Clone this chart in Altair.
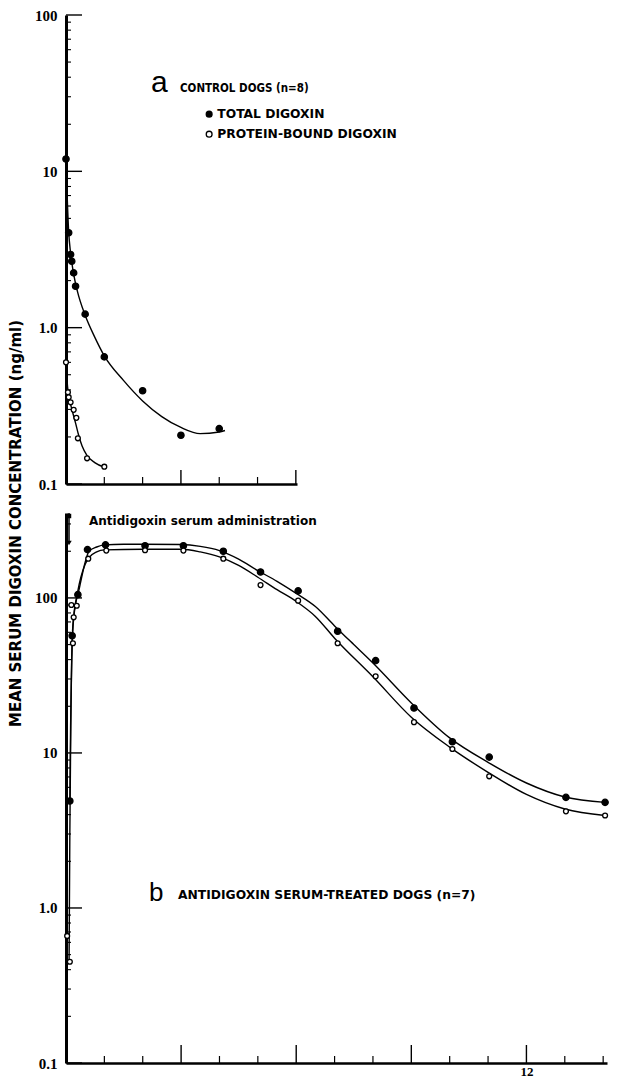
import altair as alt
import pandas as pd

# ---------------- values ----------------
SERIES = ["TOTAL DIGOXIN", "PROTEIN-BOUND DIGOXIN"]

# Panel a: control dogs (time in h, concentration ng/ml)
a_total_t = [0.0, 0.07, 0.12, 0.15, 0.2, 0.25, 0.5, 1.0, 2.0, 3.0, 4.0]
a_total_v = [12.0, 4.05, 2.94, 2.66, 2.24, 1.84, 1.22, 0.65, 0.395, 0.205, 0.226]
a_bound_t = [0.0, 0.05, 0.07, 0.12, 0.2, 0.27, 0.31, 0.55, 1.0]
a_bound_v = [0.60, 0.386, 0.359, 0.333, 0.298, 0.265, 0.196, 0.146, 0.129]

# hand-fitted curves of panel a (traced)
a_total_fit_t = [0.0, 0.03, 0.07, 0.12, 0.2, 0.3, 0.5, 0.75, 1.0, 1.5, 2.0, 2.5, 3.0, 3.5, 4.0, 4.15]
a_total_fit_v = [12.0, 7.0, 4.1, 3.0, 2.2, 1.7, 1.2, 0.87, 0.66, 0.46, 0.34, 0.27, 0.23, 0.21, 0.215, 0.22]
a_bound_fit_t = [0.0, 0.04, 0.1, 0.17, 0.25, 0.33, 0.42, 0.55, 0.75, 1.0]
a_bound_fit_v = [0.60, 0.42, 0.34, 0.29, 0.245, 0.205, 0.175, 0.152, 0.137, 0.128]

# Panel b: antidigoxin serum-treated dogs
b_total_t = [0.1, 0.16, 0.31, 0.56, 1.03, 2.06, 3.06, 4.1, 5.07, 6.05, 7.08, 8.07, 9.07, 10.07, 11.03, 13.03, 14.05]
b_total_v = [4.9, 57, 105, 205, 220, 217, 217, 200, 147, 111, 61, 39.4, 19.5, 11.8, 9.4, 5.17, 4.8]
b_bound_t = [0.03, 0.1, 0.14, 0.18, 0.2, 0.28, 0.58, 1.05, 2.06, 3.06, 4.1, 5.07, 6.05, 7.08, 8.07, 9.07, 10.07, 11.03, 13.03, 14.05]
b_bound_v = [0.66, 0.45, 90, 51, 75, 89, 179, 202, 203, 202, 179, 121, 96, 51, 31.2, 15.8, 10.6, 7.07, 4.2, 3.95]

# hand-fitted curves of panel b (traced)
b_total_fit_t = [0.1, 0.12, 0.15, 0.2, 0.35, 0.5, 0.6, 0.8, 1.0, 1.5, 2.0, 3.0, 3.5, 4.0, 4.5, 5.0, 5.5,
                 6.0, 6.5, 7.0, 7.5, 8.0, 9.0, 10.0, 11.0, 12.0, 13.0, 14.05]
b_total_fit_v = [4.9, 15, 40, 74, 116, 170, 200, 213, 220, 222, 222, 221, 215, 202, 178, 150, 128,
                 107, 88, 66, 50, 38, 21, 12.5, 8.7, 6.4, 5.2, 4.8]
b_bound_fit_t = [0.08, 0.1, 0.13, 0.18, 0.3, 0.5, 0.6, 0.8, 1.0, 2.0, 3.0, 3.5, 4.0, 4.5, 5.0, 5.5,
                 6.0, 6.5, 7.0, 8.0, 9.0, 10.0, 11.0, 12.0, 13.0, 14.05]
b_bound_fit_v = [0.45, 3, 20, 67, 108, 165, 182, 198, 204, 206, 206, 198, 184, 162, 136, 113,
                 95, 76, 55, 31, 17, 10.9, 7.5, 5.4, 4.35, 3.95]

# axis ticks / labels
Y_LABELS = [0.1, 1, 10, 100]
Y_MINOR_A = [0.2, 0.3, 0.4, 0.5, 0.6, 0.7, 0.8, 0.9, 2, 3, 4, 5, 6, 7, 8, 9,
             20, 30, 40, 50, 60, 70, 80, 90]
Y_MINOR_B = Y_MINOR_A + [200, 300]
X_MAJOR_A = [3, 6]
X_MINOR_A = [1, 2, 4, 5]
X_MAJOR_B = [3, 6, 9, 12]
X_MINOR_B = [1, 2, 4, 5, 7, 8, 10, 11, 13, 14]
X_LABELS_B = [12]

Y_TITLE = "MEAN SERUM DIGOXIN CONCENTRATION (ng/ml)"
TXT_A = "CONTROL DOGS (n=8)"
TXT_B = "ANTIDIGOXIN SERUM-TREATED DOGS (n=7)"
TXT_ARROW = "Antidigoxin serum administration"

SANS = "DejaVu Sans"
COND = "DejaVu Sans Condensed, Liberation Sans Narrow, Liberation Sans"
SERIF = "Liberation Serif"
LABEL_EXPR = "datum.value >= 10 ? format(datum.value, 'd') : format(datum.value, '.1f')"


def frame(t1, v1, t2, v2):
    return pd.concat([
        pd.DataFrame({"t": t1, "v": v1, "s": SERIES[0]}),
        pd.DataFrame({"t": t2, "v": v2, "s": SERIES[1]}),
    ], ignore_index=True)


def panel(points, fits, xdom, ydom, W, H, xmaj, xmin, ymin, xlabels, legend, ytitle,
          xmaj_len):
    xs = alt.Scale(domain=xdom, nice=False, zero=False)
    ys = alt.Scale(type="log", domain=ydom, nice=False)
    yargs = dict(values=Y_LABELS, ticks=False, grid=False, labelExpr=LABEL_EXPR,
                 labelFont=SERIF, labelFontSize=15, labelFontWeight="bold", labelColor="black",
                 labelPadding=9, domainWidth=3, domainColor="black")
    if ytitle:
        yaxis = alt.Axis(title=ytitle, titleFont=SANS, titleFontSize=15, titleFontWeight="bold",
                         titleColor="black", titleAngle=270, titleAlign="center",
                         titleBaseline="bottom", titleY=10, titlePadding=11, **yargs)
    else:
        yaxis = alt.Axis(title=None, **yargs)
    if xlabels:
        xaxis = alt.Axis(values=xlabels, ticks=False, grid=False, labelFont=SERIF,
                         labelFontSize=13, labelFontWeight="bold", labelColor="black",
                         labelPadding=2, domainWidth=2.5, domainColor="black", title=None)
    else:
        xaxis = alt.Axis(values=[0], ticks=False, labels=False, grid=False,
                         domainWidth=2.5, domainColor="black", title=None)

    X = alt.X("t:Q", scale=xs, axis=xaxis)
    Y = alt.Y("v:Q", scale=ys, axis=yaxis)

    lines = alt.Chart(fits).mark_line(color="black", strokeWidth=1.4, interpolate="monotone").encode(
        x=X, y=Y, detail="s:N")

    if legend:
        leg = alt.Legend(orient="none", legendX=137, legendY=93, title=None, padding=0,
                         labelFont=SANS, labelFontSize=12.3, labelFontWeight="bold",
                         labelColor="black", symbolType="circle", symbolSize=34,
                         symbolStrokeColor="black", symbolStrokeWidth=1.3,
                         labelOffset=2, rowPadding=7, labelLimit=0)
    else:
        leg = None
    fill = alt.Fill("s:N", scale=alt.Scale(domain=SERIES, range=["black", "white"]), legend=leg)

    base_pts = alt.Chart(points)
    pts_total = base_pts.transform_filter(alt.datum.s == SERIES[0]).mark_point(
        filled=True, shape="circle", stroke="black", strokeWidth=1.3, opacity=1, size=40
    ).encode(x=X, y=Y, fill=fill)
    pts_bound = base_pts.transform_filter(alt.datum.s == SERIES[1]).mark_point(
        filled=True, shape="circle", stroke="black", strokeWidth=1.3, opacity=1, size=24
    ).encode(x=X, y=Y, fill=fill)

    def yticks(vals, length, width):
        return alt.Chart(pd.DataFrame({"v": vals})).mark_rule(color="black", strokeWidth=width).encode(
            y=alt.Y("v:Q", scale=ys, axis=yaxis), x=alt.value(0), x2=alt.value(length))

    def xticks(vals, length, width):
        return alt.Chart(pd.DataFrame({"t": vals})).mark_rule(color="black", strokeWidth=width).encode(
            x=alt.X("t:Q", scale=xs, axis=xaxis), y=alt.value(H), y2=alt.value(H - length))

    layers = [
        yticks(Y_LABELS, 16, 1.4), yticks(ymin, 5, 1.1),
        xticks(xmaj, xmaj_len, 1.4), xticks(xmin, 7, 1.2),
        lines, pts_total, pts_bound,
    ]
    return alt.layer(*layers).properties(width=W, height=H)


pts_a = frame(a_total_t, a_total_v, a_bound_t, a_bound_v)
fit_a = frame(a_total_fit_t, a_total_fit_v, a_bound_fit_t, a_bound_fit_v)
pts_b = frame(b_total_t, b_total_v, b_bound_t, b_bound_v)
fit_b = frame(b_total_fit_t, b_total_fit_v, b_bound_fit_t, b_bound_fit_v)

top = panel(pts_a, fit_a, [0, 6.03], [0.1, 100], 231, 469, X_MAJOR_A, X_MINOR_A,
            Y_MINOR_A, None, True, None, 14)
bottom = panel(pts_b, fit_b, [0, 14.1], [0.1, 353], 541, 550, X_MAJOR_B, X_MINOR_B,
               Y_MINOR_B, X_LABELS_B, False, Y_TITLE, 18)

# annotations
lab_df = pd.DataFrame({"big": ["a"], "txt": [TXT_A]})
a_big = alt.Chart(lab_df).mark_text(font="Liberation Sans", fontSize=30, align="left",
                                    baseline="alphabetic", color="black").encode(
    text="big:N", x=alt.value(85), y=alt.value(77))
a_txt = alt.Chart(lab_df).mark_text(font=COND, fontSize=11.5, fontWeight="bold", align="left",
                                    baseline="alphabetic", color="black").encode(
    text="txt:N", x=alt.value(114), y=alt.value(77))

labb_df = pd.DataFrame({"big": ["b"], "txt": [TXT_B], "arrow": [TXT_ARROW]})
b_big = alt.Chart(labb_df).mark_text(font="Liberation Sans", fontSize=26, align="left",
                                     baseline="alphabetic", color="black").encode(
    text="big:N", x=alt.value(83), y=alt.value(388))
b_txt = alt.Chart(labb_df).mark_text(font=SANS, fontSize=12.3, fontWeight="bold", align="left",
                                     baseline="alphabetic", color="black").encode(
    text="txt:N", x=alt.value(112), y=alt.value(386))
arr_txt = alt.Chart(labb_df).mark_text(font=SANS, fontSize=12, fontWeight="bold", align="left",
                                       baseline="alphabetic", color="black").encode(
    text="arrow:N", x=alt.value(23), y=alt.value(12))
arr_line = alt.Chart(labb_df).mark_rule(color="black", strokeWidth=1.5).encode(
    x=alt.value(3), y=alt.value(0), y2=alt.value(30))
arr_head = alt.Chart(labb_df).mark_point(shape="triangle-down", filled=True, color="black",
                                         size=30, opacity=1).encode(
    x=alt.value(3), y=alt.value(30))
arr_tail = alt.Chart(labb_df).mark_point(shape="square", filled=True, color="black",
                                         size=20, opacity=1).encode(
    x=alt.value(3), y=alt.value(3))

top_full = alt.layer(top, a_big, a_txt)
bottom_full = alt.layer(bottom, b_big, b_txt, arr_txt, arr_line, arr_head, arr_tail)

chart = alt.vconcat(top_full, bottom_full, spacing=29, bounds="flush").resolve_scale(
    fill="independent"
).properties(
    padding=0,
).configure_view(stroke=None)

chart.save("out.html", embed_options={"renderer": "svg", "actions": False})
